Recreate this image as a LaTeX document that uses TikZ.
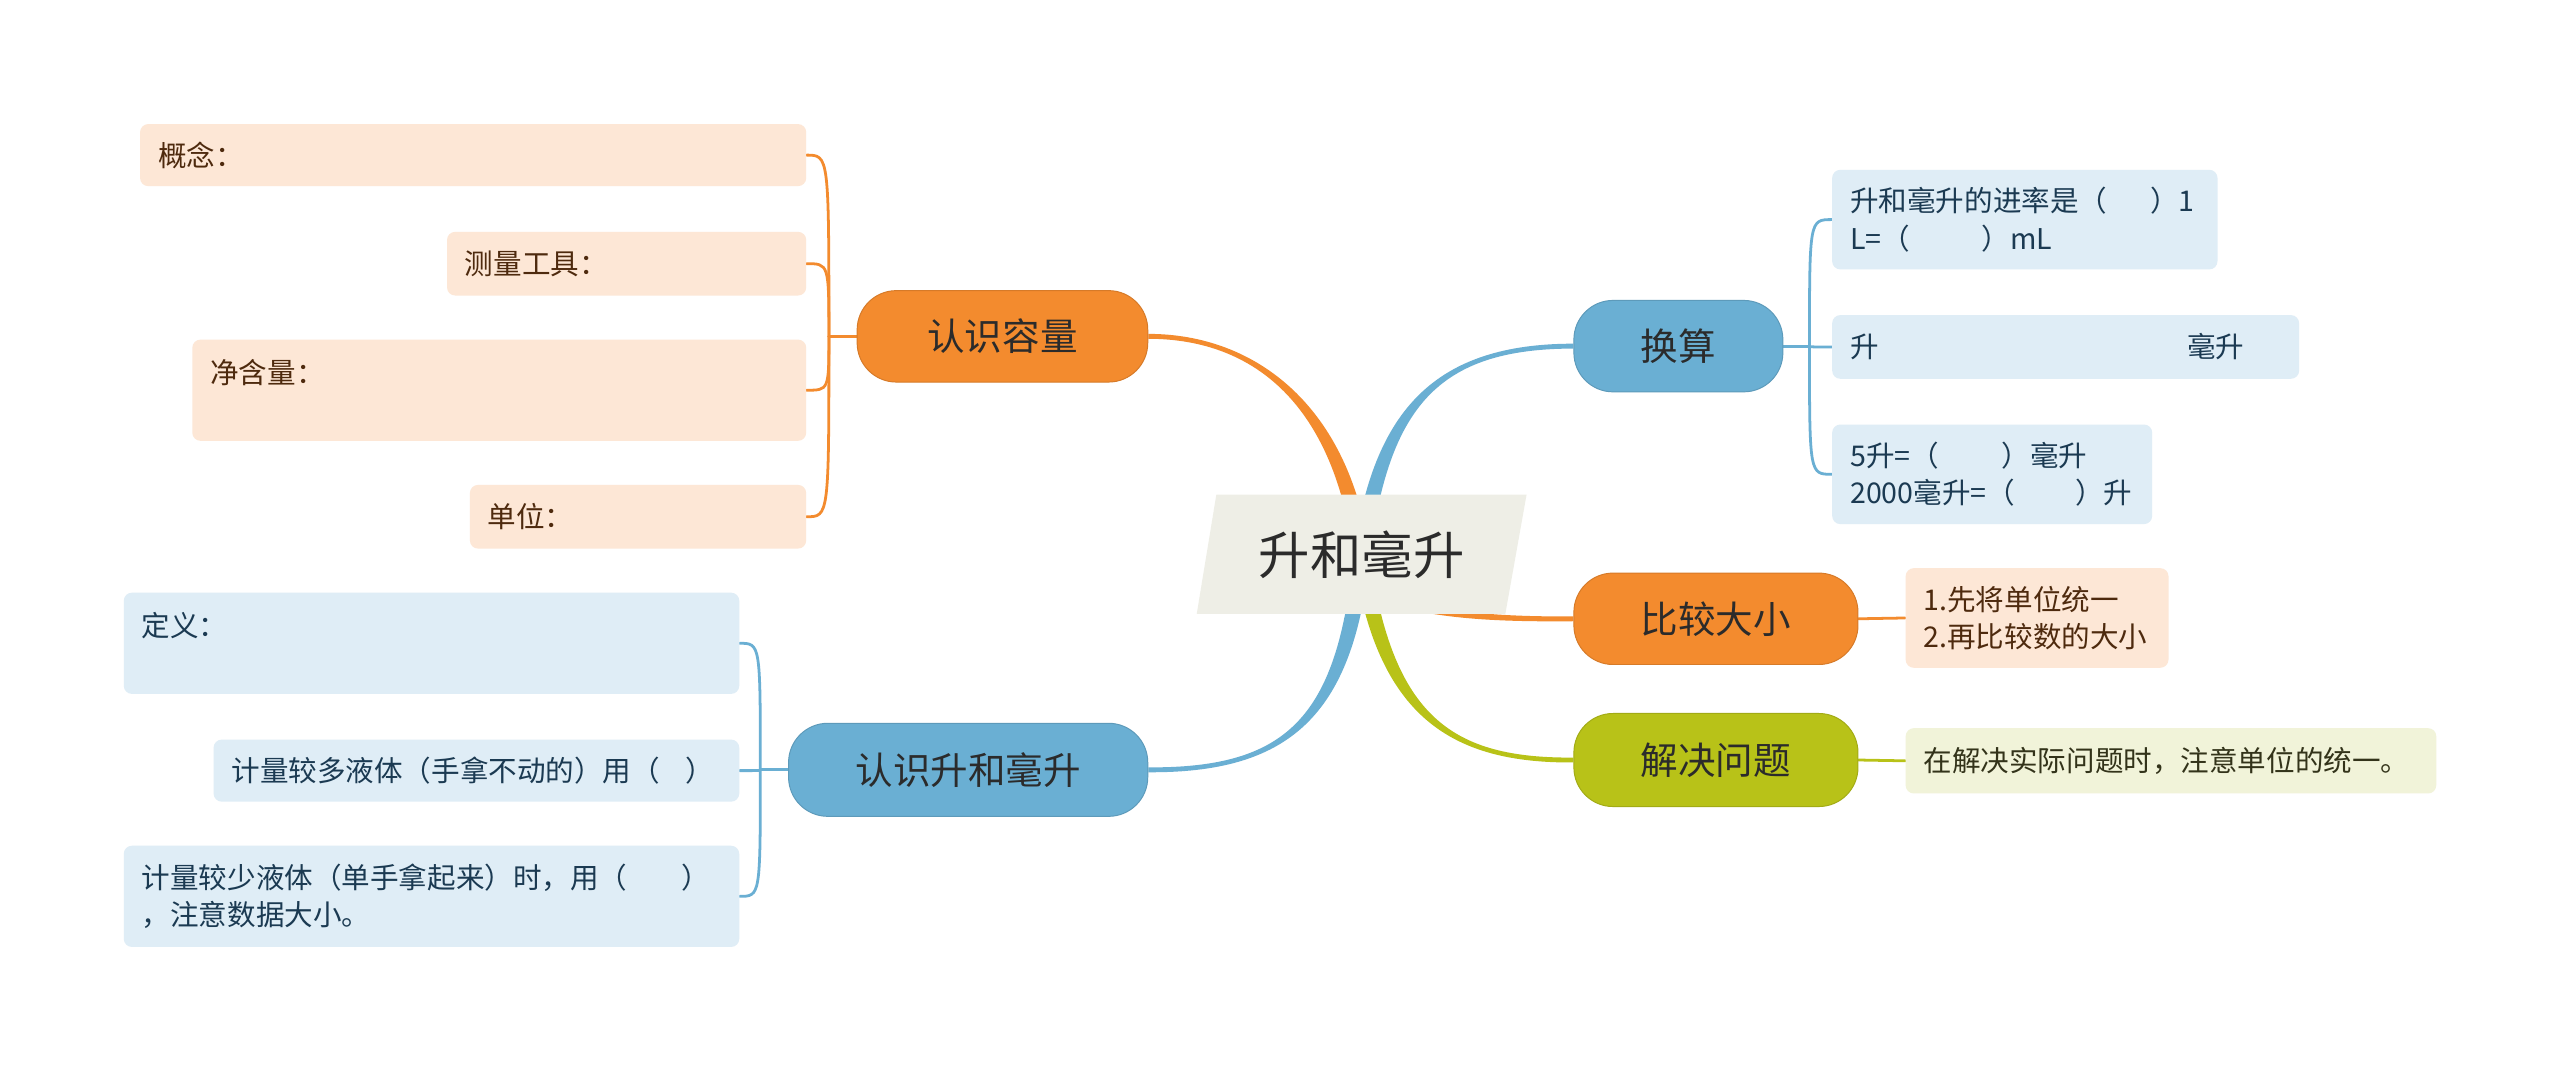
\documentclass[tikz,border=0pt]{standalone}
\usepackage{fontspec}
\setmainfont{Noto Sans CJK SC}
\usetikzlibrary{calc}
\definecolor{orangeM}{HTML}{F38B2E}
\definecolor{blueM}{HTML}{6AAFD3}
\definecolor{greenM}{HTML}{B8C218}
\definecolor{orangeL}{HTML}{FDE7D6}
\definecolor{blueL}{HTML}{DFEDF6}
\definecolor{greenL}{HTML}{F1F3D9}
\definecolor{rootF}{HTML}{EEEEE6}
\definecolor{orangeT}{HTML}{4E2A0E}
\definecolor{blueT}{HTML}{1B3A52}
\definecolor{greenT}{HTML}{33331A}
\definecolor{darkT}{HTML}{2B2B2B}
\pgfdeclarelayer{paper}
\pgfdeclarelayer{bg}
\pgfdeclarelayer{mid}
\pgfsetlayers{paper,bg,mid,main}
\newcommand\taperline[7]{%
  \fill[#1] ($#2+#6$) .. controls ($#3+#6$) and ($#4+#7$) .. ($#5+#7$)
    -- ($#5-#7$) .. controls ($#4-#7$) and ($#3-#6$) .. ($#2-#6$) -- cycle;}
\tikzset{
  pill/.style={rounded corners=24pt, inner sep=0pt, line width=0.6pt,
    font=\fontsize{23}{27}\selectfont, text=darkT},
  pillO/.style={pill, fill=orangeM, draw=orangeM!88!black},
  pillB/.style={pill, fill=blueM, draw=blueM!88!black},
  pillG/.style={pill, fill=greenM, draw=greenM!88!black},
  leaf/.style={rounded corners=5pt, inner xsep=11pt, inner ysep=0pt, align=left,
    font=\fontsize{17.5}{23}\selectfont},
  leafO/.style={leaf, fill=orangeL, text=orangeT},
  leafB/.style={leaf, fill=blueL, text=blueT},
  leafG/.style={leaf, fill=greenL, text=greenT},
  twig/.style={line width=1.7pt, line cap=round},
}
\begin{document}
\begin{tikzpicture}[x=1pt, y=-1pt]
\begin{pgfonlayer}{paper}
\fill[white] (0,0) rectangle (1568,657);
\end{pgfonlayer}
\useasboundingbox (0,0) rectangle (1568,657);

% root
\node[font=\fontsize{31.5}{36}\selectfont, text=darkT, inner sep=0pt] (root) at (834,340) {升和毫升};
\begin{pgfonlayer}{mid}
\fill[rootF] ($(root.center)+(-89,-37)$) -- ($(root.center)+(101,-37)$)
  -- ($(root.center)+(88,36)$) -- ($(root.center)+(-101,36)$) -- cycle;
\end{pgfonlayer}

% main branches
\node[pillO, minimum width=178pt, minimum height=56pt] (k1) at (614,206) {认识容量};
\node[pillB, minimum width=220pt, minimum height=57pt] (k2) at (593,471.5) {认识升和毫升};
\node[pillB, minimum width=128pt, minimum height=56pt] (k3) at (1028,212) {换算};
\node[pillO, minimum width=174pt, minimum height=56pt] (k4) at (1051,379) {比较大小};
\node[pillG, minimum width=174pt, minimum height=57pt] (k5) at (1051,465.5) {解决问题};

% leaves of 认识容量
\node[leafO, text width=386pt, minimum height=38pt, anchor=east] (a1) at (494,95) {概念：};
\node[leafO, text width=198pt, minimum height=39pt, anchor=east] (a2) at (494,161.5) {测量工具：};
\node[leafO, text width=354pt, minimum height=62pt, anchor=east] (a3) at (494,239) {净含量：\\\mbox{}};
\node[leafO, text width=184pt, minimum height=39pt, anchor=east] (a4) at (494,316.5) {单位：};

% leaves of 认识升和毫升
\node[leafB, text width=355pt, minimum height=62pt, anchor=east] (b1) at (453,394) {定义：\\\mbox{}};
\node[leafB, text width=300pt, minimum height=38pt, anchor=east] (b2) at (453,472) {计量较多液体（手拿不动的）用（\hspace*{0.9em}）};
\node[leafB, text width=355pt, minimum height=62pt, anchor=east] (b3) at (453,549) {计量较少液体（单手拿起来）时，用（\hspace*{1.9em}）\\，注意数据大小。};

% leaves of 换算
\node[leafB, text width=214pt, minimum height=61pt, anchor=west] (c1) at (1122,134.5) {升和毫升的进率是（\hspace*{1.5em}）1\\L=（\hspace*{2.5em}）mL};
\node[leafB, text width=264pt, minimum height=39pt, anchor=west] (c2) at (1122,212.5) {升\hspace*{189pt}毫升};
\node[leafB, text width=174pt, minimum height=61pt, anchor=west] (c3) at (1122,290.5) {5升=（\hspace*{2.2em}）毫升\\2000毫升=（\hspace*{2.1em}）升};

% leaf of 比较大小
\node[leafO, text width=139pt, minimum height=61pt, anchor=west] (d1) at (1167,378.5) {1.先将单位统一\\2.再比较数的大小};

% leaf of 解决问题
\node[leafG, text width=303pt, minimum height=40pt, anchor=west] (e1) at (1167,466) {在解决实际问题时，注意单位的统一。};

\begin{pgfonlayer}{bg}
\coordinate (r4) at ($(root.center)+(0,22)$);
\taperline{orangeM}{(root.center)}{(822,250)}{(770,206)}{(k1.east)}{(5,0)}{(0,-1.5)}
\taperline{blueM}{(root.center)}{(824,440)}{(788,472)}{(k2.east)}{(5,0)}{(0,1.5)}
\taperline{blueM}{(root.center)}{(846,250)}{(880,212)}{(k3.west)}{(5,0)}{(0,1.5)}
\taperline{greenM}{(root.center)}{(848,440)}{(890,466)}{(k5.west)}{(5,0)}{(0,-1.5)}
\taperline{orangeM}{(r4)}{(870,376)}{(910,379.5)}{(k4.west)}{(0,2.5)}{(0,1.5)}

\draw[twig, orangeM] (k1.west) -- ++(-17,0) coordinate (f1);
\foreach \c in {a1,a2,a3,a4}
  \draw[twig, orangeM] (f1) .. controls (f1 |- \c.east) .. (\c.east);
\draw[twig, blueM] (k2.west) -- ++(-17,0) coordinate (f2);
\foreach \c in {b1,b2,b3}
  \draw[twig, blueM] (f2) .. controls (f2 |- \c.east) .. (\c.east);
\draw[twig, blueM] (k3.east) -- ++(16,0) coordinate (f3);
\foreach \c in {c1,c2,c3}
  \draw[twig, blueM] (f3) .. controls (f3 |- \c.west) .. (\c.west);
\draw[twig, orangeM] (k4.east) -- (d1.west);
\draw[twig, greenM] (k5.east) -- (e1.west);
\end{pgfonlayer}
\end{tikzpicture}
\end{document}
